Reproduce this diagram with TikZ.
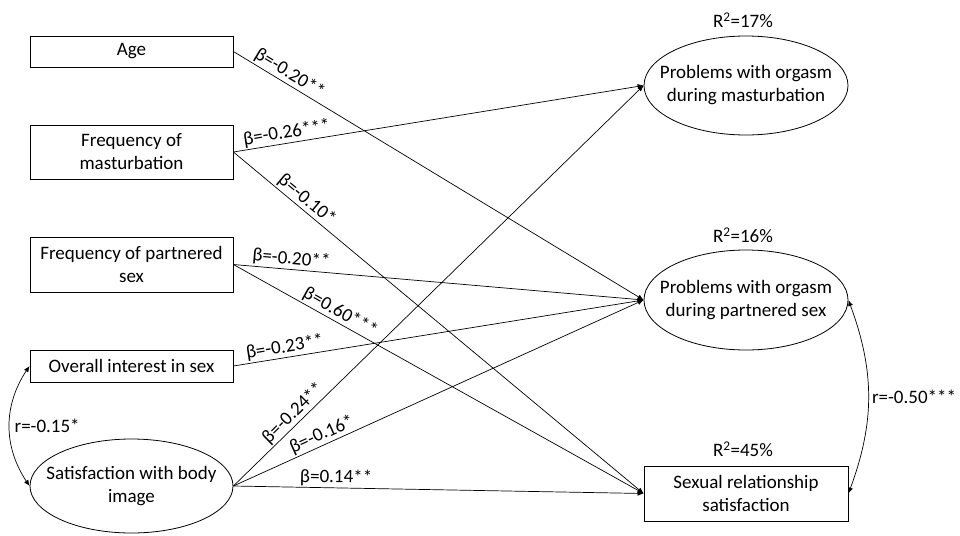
\documentclass[tikz,border=0pt]{standalone}
\usepackage{fontspec}
\setmainfont{Carlito}
\usetikzlibrary{shapes.geometric,arrows.meta,bending}
\begin{document}
\begin{tikzpicture}[x=1pt,y=-1pt,
  every node/.style={font=\fontsize{19}{23}\selectfont},
  rbox/.style={draw, rectangle, line width=0.8pt, inner sep=0pt, align=center, minimum width=203pt},
  rell/.style={draw, ellipse, line width=0.8pt, inner sep=0pt, minimum width=203pt},
  path/.style={line width=0.7pt, -{Latex[length=6pt,width=5pt]}},
  cov/.style={line width=0.7pt, {Latex[length=6pt,width=5pt]}-{Latex[length=6pt,width=5pt]}},
  coef/.style={sloped, above, inner sep=1.5pt}
]
\useasboundingbox (0,0) rectangle (960,535);

% predictors
\node[rbox, minimum height=31pt] (age) at (131.5,51.5) {Age};
\node[rbox, minimum height=54pt] (fm) at (131.5,152) {Frequency of\\masturbation};
\node[rbox, minimum height=55pt] (fp) at (131.5,264.5) {Frequency of partnered\\sex};
\node[rbox, minimum height=32pt] (ov) at (131.5,366) {Overall interest in sex};
\node[rell, minimum height=94pt, label={[align=center]center:Satisfaction with body\\image}] (body) at (131.5,486) {};

% outcomes
\node[rell, minimum width=204pt, minimum height=99pt, label={[align=center]center:Problems with orgasm\\during masturbation}] (pm) at (746,85.5) {};
\node[rell, minimum width=204pt, minimum height=100pt, label={[align=center]center:Problems with orgasm\\during partnered sex}] (ps) at (746,300) {};
\node[rbox, minimum width=204pt, minimum height=55pt] (srs) at (746,493.5) {Sexual relationship\\satisfaction};

% R squared
\node (r1) at (743,20) {R\textsuperscript{2}=17\%};
\node (r2) at (743,235) {R\textsuperscript{2}=16\%};
\node (r3) at (743,449) {R\textsuperscript{2}=45\%};

% paths
\draw[path] (age.east) -- node[coef, pos=0.124] {β=-0.20**} (ps.west);
\draw[path] (fm.east) -- node[coef, pos=0.134] {β=-0.26***} (pm.west);
\draw[path] (fm.east) -- node[coef, pos=0.163] {β=-0.10*} (srs.west);
\draw[path] (fp.east) -- node[coef, pos=0.139] {β=-0.20**} (ps.west);
\draw[path] (fp.east) -- node[coef, pos=0.248] {β=0.60***} (srs.west);
\draw[path] (ov.east) -- node[coef, pos=0.129] {β=-0.23**} (ps.west);
\draw[path] (body.east) -- node[coef, pos=0.163] {β=-0.24**} (pm.west);
\draw[path] (body.east) -- node[coef, pos=0.226] {β=-0.16*} (ps.west);
\draw[path] (body.east) -- node[coef, pos=0.25] {β=0.14**} (srs.west);

% covariances
\draw[cov] (ov.west) to[bend right=36] node[right=2pt, midway] {r=-0.15*} (body.west);
\draw[cov] (ps.east) to[bend left=21] node[right=1pt, midway, inner sep=2pt] {r=-0.50***} (srs.east);
\end{tikzpicture}
\end{document}
